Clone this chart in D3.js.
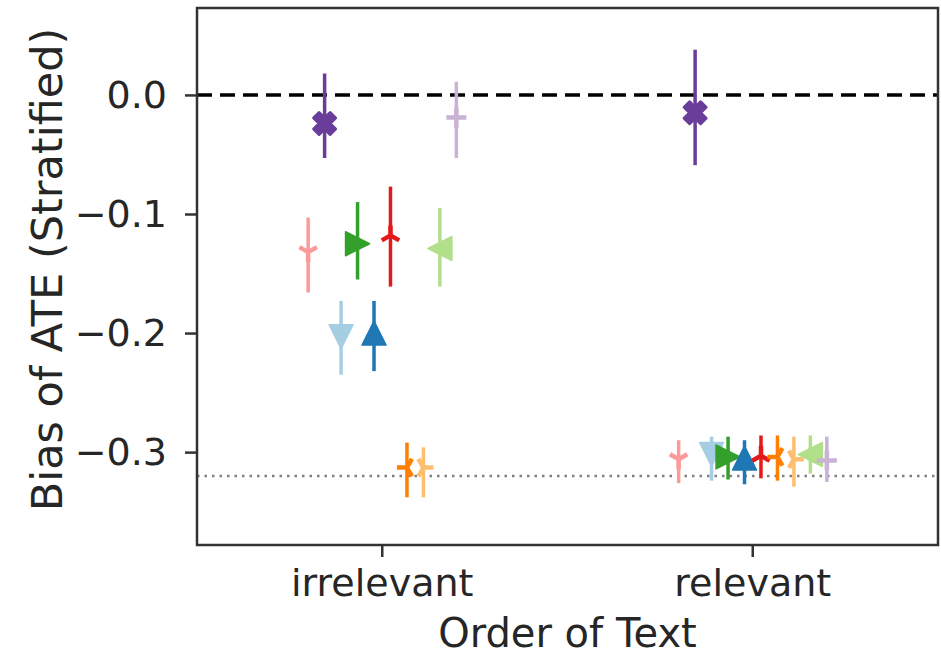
<!DOCTYPE html>
<html>
<head>
<meta charset="utf-8">
<script src="https://cdn.jsdelivr.net/npm/d3@7"></script>
<style>
  body { margin: 0; background: #fff; }
  text { font-family: "DejaVu Sans", sans-serif; fill: #262626; }
</style>
</head>
<body>
<div id="chart"></div>
<script>
var w = 941,
	h = 659;

// data
var categories = ["irrelevant", "relevant"];
var seriesNames = ["s1", "s2", "s3", "s4", "s5", "s6", "s7", "s8", "s9", "s10"];
var seriesColors = ["#fb9a99", "#6a3d9a", "#a6cee3", "#33a02c", "#1f78b4",
	"#e31a1c", "#ff7f00", "#fdbf6f", "#b2df8a", "#cab2d6"];
var seriesMarkers = ["tri_down", "X", "v", ">", "^", "tri_up", "tri_left", "tri_right", "<", "+"];
// mean per category [irrelevant, relevant]
var means = [
	[-0.132, -0.306],
	[-0.024, -0.015],
	[-0.203, -0.302],
	[-0.125, -0.304],
	[-0.200, -0.305],
	[-0.118, -0.303],
	[-0.313, -0.304],
	[-0.313, -0.306],
	[-0.129, -0.302],
	[-0.019, -0.307]
];
var lowers = [
	[-0.166, -0.326],
	[-0.053, -0.059],
	[-0.235, -0.324],
	[-0.155, -0.323],
	[-0.232, -0.327],
	[-0.161, -0.322],
	[-0.338, -0.324],
	[-0.338, -0.329],
	[-0.161, -0.318],
	[-0.053, -0.325]
];
var uppers = [
	[-0.103, -0.290],
	[0.018, 0.038],
	[-0.173, -0.287],
	[-0.090, -0.287],
	[-0.173, -0.290],
	[-0.077, -0.286],
	[-0.292, -0.286],
	[-0.296, -0.287],
	[-0.095, -0.286],
	[0.011, -0.287]
];
var yTicks = [0.0, -0.1, -0.2, -0.3];
var refZero = 0.0;
var refTrue = -0.32;

var svg = d3.select("#chart")
	.append("svg")
	.attr("width", w)
	.attr("height", h);

var margin = { top: 8, right: 3, bottom: 114, left: 197 };

var x = d3.scaleBand()
	.domain(categories)
	.range([margin.left, w - margin.right])
	.padding(0);

var bw = x.bandwidth();
var dodge = d3.scalePoint()
	.domain(seriesNames)
	.range([-0.2 * bw, 0.2 * bw]);

var y = d3.scaleLinear()
	.domain([-0.378, 0.073])
	.range([h - margin.bottom, margin.top]);

// reference lines
svg.append("line")
	.attr("x1", margin.left).attr("x2", w - margin.right)
	.attr("y1", y(refZero)).attr("y2", y(refZero))
	.attr("stroke", "#000")
	.attr("stroke-width", 3.5)
	.attr("stroke-dasharray", "15,8");

svg.append("line")
	.attr("x1", margin.left).attr("x2", w - margin.right)
	.attr("y1", y(refTrue)).attr("y2", y(refTrue))
	.attr("stroke", "#808080")
	.attr("stroke-width", 2.5)
	.attr("stroke-dasharray", "2.5,5");

// marker paths, r = half size
function markerPath(m, r) {
	var s = r * 0.5;
	switch (m) {
		case "^": return `M0,${-r}L${r},${r}L${-r},${r}Z`;
		case "v": return `M0,${r}L${r},${-r}L${-r},${-r}Z`;
		case ">": return `M${r},0L${-r},${-r}L${-r},${r}Z`;
		case "<": return `M${-r},0L${r},${-r}L${r},${r}Z`;
		case "X":
			return `M${-r + s},${-r}L0,${-s}L${r - s},${-r}L${r},${-r + s}L${s},0L${r},${r - s}` +
				`L${r - s},${r}L0,${s}L${-r + s},${r}L${-r},${r - s}L${-s},0L${-r},${-r + s}Z`;
		case "+": return `M${-r},0L${r},0M0,${-r}L0,${r}`;
		case "tri_down": return `M0,0L0,${r}M0,0L${-r * 0.87},${-r / 2}M0,0L${r * 0.87},${-r / 2}`;
		case "tri_up": return `M0,0L0,${-r}M0,0L${-r * 0.87},${r / 2}M0,0L${r * 0.87},${r / 2}`;
		case "tri_left": return `M0,0L${-r},0M0,0L${r / 2},${-r * 0.87}M0,0L${r / 2},${r * 0.87}`;
		case "tri_right": return `M0,0L${r},0M0,0L${-r / 2},${-r * 0.87}M0,0L${-r / 2},${r * 0.87}`;
	}
}

var lineMarkers = ["+", "tri_down", "tri_up", "tri_left", "tri_right"];

seriesNames.forEach(function(name, i) {
	var g = svg.append("g");
	var color = seriesColors[i];
	categories.forEach(function(c, j) {
		var cx = x(c) + bw / 2 + dodge(name);
		g.append("line")
			.attr("x1", cx).attr("x2", cx)
			.attr("y1", y(lowers[i][j])).attr("y2", y(uppers[i][j]))
			.attr("stroke", color)
			.attr("stroke-width", 3.5);
		var m = seriesMarkers[i];
		var isLine = lineMarkers.includes(m);
		var r = isLine ? 10 : (m == "X" ? 11 : 12);
		g.append("path")
			.attr("transform", `translate(${cx},${y(means[i][j])})`)
			.attr("d", markerPath(m, r))
			.attr("fill", isLine ? "none" : color)
			.attr("stroke", color)
			.attr("stroke-width", isLine ? 4.5 : (m == "X" ? 3 : 1.5))
			.attr("stroke-linejoin", "round");
	});
});

// frame
svg.append("rect")
	.attr("x", margin.left).attr("y", margin.top)
	.attr("width", w - margin.right - margin.left)
	.attr("height", h - margin.bottom - margin.top)
	.attr("fill", "none")
	.attr("stroke", "#333")
	.attr("stroke-width", 2.5);

// Axes
var yAxis = svg.append("g")
	.attr("transform", `translate(${margin.left},0)`)
	.call(d3.axisLeft(y).tickValues(yTicks).tickSize(12).tickPadding(18)
		.tickFormat(function(d) { return d3.format(".1f")(d).replace("-", "\u2212"); }));
yAxis.select(".domain").remove();
yAxis.selectAll(".tick line").attr("stroke", "#333").attr("stroke-width", 2.5);
yAxis.selectAll(".tick text").style("font-size", "38px").attr("fill", "#262626");

var xAxis = svg.append("g")
	.attr("transform", `translate(0,${h - margin.bottom})`)
	.call(d3.axisBottom(x).tickSize(12).tickPadding(12));
xAxis.select(".domain").remove();
xAxis.selectAll(".tick line").attr("stroke", "#333").attr("stroke-width", 2.5);
xAxis.selectAll(".tick text").style("font-size", "38px").attr("fill", "#262626");

svg.append("text")
	.attr("x", (margin.left + w - margin.right) / 2)
	.attr("y", 647)
	.attr("text-anchor", "middle")
	.style("font-size", "40px")
	.text("Order of Text");

svg.append("text")
	.attr("transform", `translate(62,${(margin.top + h - margin.bottom) / 2 - 7}) rotate(-90)`)
	.attr("text-anchor", "middle")
	.style("font-size", "43px")
	.text("Bias of ATE (Stratified)");
</script>
</body>
</html>
